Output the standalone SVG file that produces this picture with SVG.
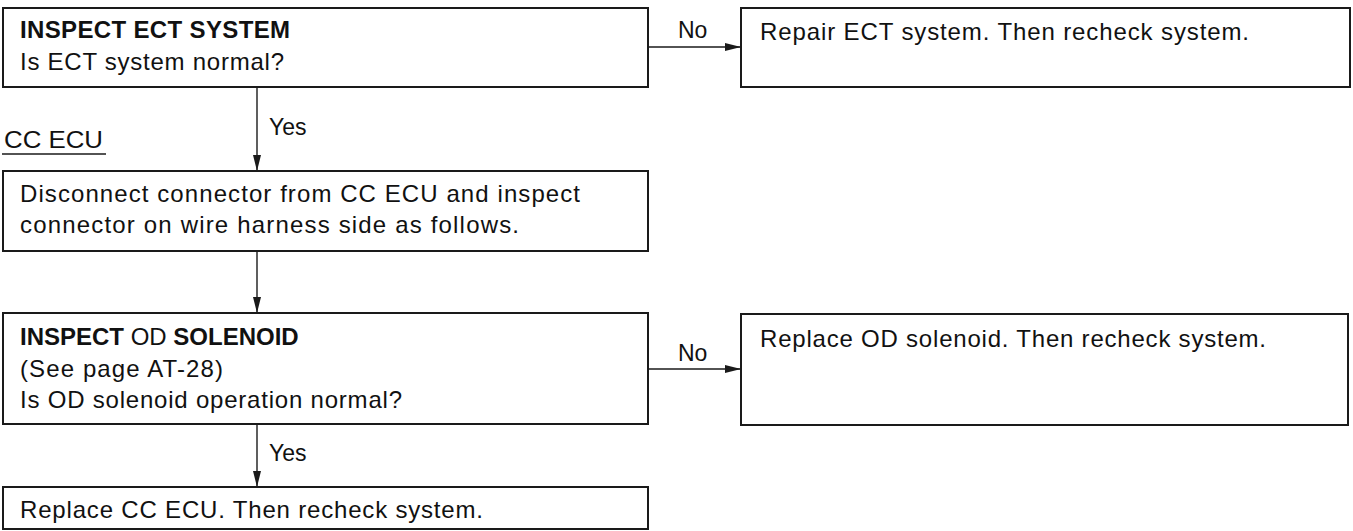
<svg xmlns="http://www.w3.org/2000/svg" width="1353" height="531" viewBox="0 0 1353 531">
<style>
.box{fill:#fff;stroke:#1a1a1a;stroke-width:2}
.t{font-family:"Liberation Sans",Arial,sans-serif;font-size:24px;fill:#111}
.b{font-weight:bold}
.lbl{font-family:"Liberation Sans",Arial,sans-serif;font-size:23px;fill:#111}
.con{stroke:#1a1a1a;stroke-width:1.4;fill:none}
</style>
<defs>
<marker id="ah" viewBox="0 0 16 8" refX="16" refY="4" markerWidth="16" markerHeight="8" markerUnits="userSpaceOnUse" orient="auto">
<path d="M0,0 L16,4 L0,8 Z" fill="#1a1a1a"/>
</marker>
</defs>
<rect width="1353" height="531" fill="#fff"/>
<g id="connectors">
<line class="con" x1="648" y1="47" x2="741" y2="47" marker-end="url(#ah)"/>
<line class="con" x1="257" y1="87" x2="257" y2="171" marker-end="url(#ah)"/>
<line class="con" x1="257" y1="251" x2="257" y2="313" marker-end="url(#ah)"/>
<line class="con" x1="648" y1="369" x2="741" y2="369" marker-end="url(#ah)"/>
<line class="con" x1="257" y1="424" x2="257" y2="487" marker-end="url(#ah)"/>
<text class="lbl" x="678" y="38">No</text>
<text class="lbl" x="678" y="361">No</text>
<text class="lbl" x="269" y="135">Yes</text>
<text class="lbl" x="269" y="461">Yes</text>
</g>
<g id="label-cc-ecu">
<text class="lbl" x="4" y="148" textLength="99" lengthAdjust="spacingAndGlyphs">CC ECU</text>
<line x1="2" y1="154" x2="106" y2="154" stroke="#1a1a1a" stroke-width="1.5"/>
</g>
<g id="n1">
<rect class="box" x="3" y="8" width="645" height="79"/>
<text class="t b" x="20" y="38" textLength="270" lengthAdjust="spacing">INSPECT ECT SYSTEM</text>
<text class="t" x="20" y="70" textLength="264" lengthAdjust="spacing">Is ECT system normal?</text>
</g>
<g id="n2">
<rect class="box" x="741" y="8" width="609" height="79"/>
<text class="t" x="760" y="40" textLength="489" lengthAdjust="spacing">Repair ECT system. Then recheck system.</text>
</g>
<g id="n3">
<rect class="box" x="3" y="171" width="645" height="80"/>
<text class="t" x="20" y="202" textLength="560" lengthAdjust="spacing">Disconnect connector from CC ECU and inspect</text>
<text class="t" x="20" y="233" textLength="499" lengthAdjust="spacing">connector on wire harness side as follows.</text>
</g>
<g id="n4">
<rect class="box" x="3" y="313" width="645" height="111"/>
<text class="t" x="20" y="345"><tspan class="b">INSPECT</tspan> OD <tspan class="b">SOLENOID</tspan></text>
<text class="t" x="20" y="377" textLength="203" lengthAdjust="spacing">(See page AT-28)</text>
<text class="t" x="20" y="408" textLength="382" lengthAdjust="spacing">Is OD solenoid operation normal?</text>
</g>
<g id="n5">
<rect class="box" x="741" y="314" width="607" height="111"/>
<text class="t" x="760" y="347" textLength="506" lengthAdjust="spacing">Replace OD solenoid. Then recheck system.</text>
</g>
<g id="n6">
<rect class="box" x="3" y="487" width="645" height="42"/>
<text class="t" x="20" y="518" textLength="463" lengthAdjust="spacing">Replace CC ECU. Then recheck system.</text>
</g>
</svg>
